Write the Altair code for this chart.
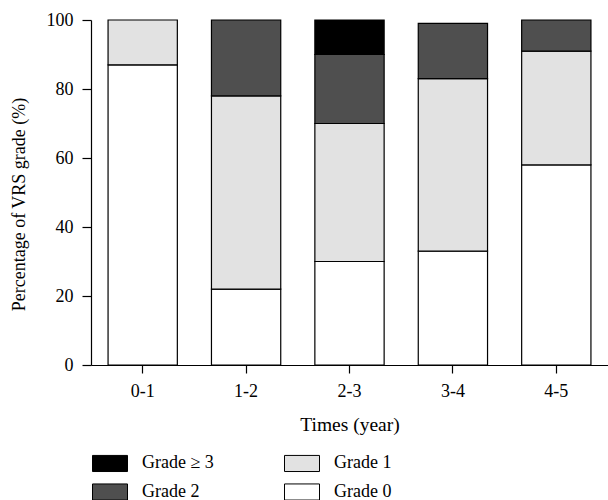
import altair as alt
import pandas as pd

times = ["0-1", "1-2", "2-3", "3-4", "4-5"]
grades = ["Grade 0", "Grade 1", "Grade 2", "Grade \u2265 3"]
grade0 = [87, 22, 30, 33, 58]
grade1 = [13, 56, 40, 50, 33]
grade2 = [0, 22, 20, 16, 9]
grade3 = [0, 0, 10, 0, 0]
fills = ["#ffffff", "#e2e2e2", "#4f4f4f", "#000000"]
legend_order = ["Grade \u2265 3", "Grade 2", "Grade 1", "Grade 0"]

rows = []
for gi, (g, vals) in enumerate(zip(grades, [grade0, grade1, grade2, grade3])):
    for t, v in zip(times, vals):
        if v > 0:
            rows.append({"time": t, "grade": g, "value": v, "ord": gi})
df = pd.DataFrame(rows)

FONT = "Liberation Serif"
LS = 18

chart = alt.Chart(df).mark_bar(stroke="black", strokeWidth=1.2, opacity=1).encode(
    x=alt.X("time:N", sort=times,
            scale=alt.Scale(paddingInner=0.33, paddingOuter=0.165),
            axis=alt.Axis(title="Times (year)", labelAngle=0, tickSize=8,
                          labelPadding=9, titleY=59, titleBaseline="middle",
                          labelFont=FONT, labelFontSize=LS, titleFont=FONT, titleFontSize=19.5,
                          titleFontWeight="normal", labelColor="black", titleColor="black",
                          domainColor="black", tickColor="black", domainWidth=1.2,
                          tickWidth=1.2)),
    y=alt.Y("value:Q", stack="zero",
            scale=alt.Scale(domain=[0, 100], nice=False),
            axis=alt.Axis(title="Percentage of VRS grade (%)", values=[0, 20, 40, 60, 80, 100],
                          tickSize=9, labelPadding=9, grid=False,
                          titleX=-72, titleY=184, titleBaseline="middle",
                          labelFont=FONT, labelFontSize=LS, titleFont=FONT, titleFontSize=18,
                          titleFontWeight="normal", labelColor="black", titleColor="black",
                          domainColor="black", tickColor="black", domainWidth=1.2,
                          tickWidth=1.2)),
    fill=alt.Fill("grade:N", sort=legend_order,
                  scale=alt.Scale(domain=legend_order,
                                  range=[fills[3], fills[2], fills[1], fills[0]]),
                  legend=alt.Legend(title=None, orient="none", legendX=1, legendY=425,
                                    columns=2, columnPadding=68, rowPadding=-4,
                                    symbolType="M-1,-0.46H1V0.46H-1Z", symbolSize=1225,
                                    symbolStrokeColor="black", symbolStrokeWidth=1,
                                    symbolOpacity=1, labelOffset=14, padding=0,
                                    labelFont=FONT, labelFontSize=LS, labelColor="black")),
    order=alt.Order("ord:Q", sort="ascending"),
).properties(
    width=517, height=345,
    autosize=alt.AutoSizeParams(type="none"),
    padding={"left": 91, "top": 20, "right": 0, "bottom": 135},
).configure_view(stroke=None)

chart.save("out.html", embed_options={"renderer": "svg", "actions": False})
